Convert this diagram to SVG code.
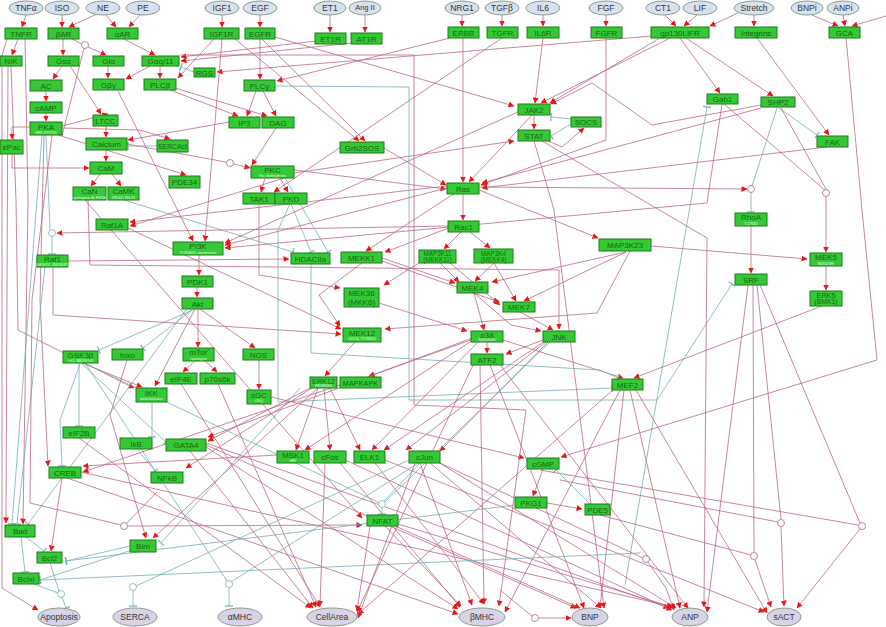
<svg xmlns="http://www.w3.org/2000/svg" width="886" height="627" viewBox="0 0 886 627">
<style>
.b rect{fill:#36c936;stroke:#1d7a1d;stroke-width:1}
.b text{font-family:"Liberation Sans",Arial,sans-serif;font-size:8px;fill:#176217;text-anchor:middle}
.b text.s{font-size:3.6px;fill:#e6ffe6}
.b text.m{font-size:6.3px}
.e ellipse{fill:#d7e1ef;stroke:#8e9b8a;stroke-width:1}
.o ellipse{fill:#d9d3e7;stroke:#8e9b8a;stroke-width:1}
.e text,.o text{font-family:"Liberation Sans",Arial,sans-serif;font-size:8.5px;fill:#333;text-anchor:middle}
.a{fill:none;stroke:#bb6a7e;stroke-width:.8;marker-end:url(#ar)}
.n{fill:none;stroke:#bb6a7e;stroke-width:.8}
.i{fill:none;stroke:#76adba;stroke-width:.8;marker-end:url(#br)}
.t{fill:none;stroke:#76adba;stroke-width:.8}
.c{fill:#fff;stroke:#a8687a;stroke-width:.8}
.ct{fill:#fff;stroke:#76adba;stroke-width:.8}
</style>
<defs>
<marker id="ar" markerUnits="userSpaceOnUse" markerWidth="6" markerHeight="6" refX="5.5" refY="3" orient="auto"><path d="M0,0 L6,3 L0,6z" fill="#e81818"/></marker>
<marker id="br" markerUnits="userSpaceOnUse" markerWidth="3" markerHeight="8" refX="1.5" refY="4" orient="auto"><path d="M1.5,0 V8" stroke="#76adba" stroke-width="1.2"/></marker>
</defs>
<rect width="886" height="627" fill="#fff"/>
<g id="connectors">
<path class="a" d="M26 15 L22 27"/>
<path class="a" d="M62 15 L62 27"/>
<path class="a" d="M97 14 L69 27"/>
<path class="a" d="M106 15 L116 27"/>
<path class="a" d="M140 15 L129 27"/>
<path class="a" d="M222 15 L222 27"/>
<path class="a" d="M260 15 L260 27"/>
<path class="a" d="M330 15 L330 32"/>
<path class="a" d="M365 15 L365 32"/>
<path class="a" d="M462 15 L462 26"/>
<path class="a" d="M502 15 L502 26"/>
<path class="a" d="M543 15 L543 26"/>
<path class="a" d="M606 15 L606 26"/>
<path class="a" d="M665 15 L676 26"/>
<path class="a" d="M697 15 L684 26"/>
<path class="a" d="M738 13 L710 26"/>
<path class="a" d="M754 15 L754 26"/>
<path class="a" d="M812 15 L838 26"/>
<path class="a" d="M843 15 L845 26"/>
<path class="a" d="M886 16 L852 26"/>
<path class="a" d="M18 39 L12 55"/>
<path class="a" d="M25 39 L28 200 L23 524"/>
<path class="a" d="M11 66 L16 200 L18 330 L134 388"/>
<path class="a" d="M8 66 L6 523"/>
<path class="a" d="M7 39 L2 55 L2 588 L38 610"/>
<path class="a" d="M63 39 L63 55"/>
<path class="n" d="M72 39 L82 44"/>
<path class="a" d="M88 47 L106 55"/>
<path class="n" d="M62 136 L84 48"/>
<path class="a" d="M124 39 L155 55"/>
<path class="a" d="M316 41 L181 57"/>
<path class="a" d="M352 43 L181 61"/>
<path class="a" d="M214 39 L178 78"/>
<path class="a" d="M652 36 L217 72"/>
<path class="i" d="M194 72 L181 67"/>
<path class="a" d="M160 66 L160 78"/>
<path class="a" d="M150 66 L126 79"/>
<path class="a" d="M108 66 L108 78"/>
<path class="a" d="M62 66 L53 79"/>
<path class="a" d="M46 91 L46 101"/>
<path class="a" d="M46 113 L46 121"/>
<path class="a" d="M30 127 L12 127 L12 139"/>
<path class="a" d="M12 154 L12 168 L89 168"/>
<path class="a" d="M70 66 L101 114"/>
<path class="a" d="M62 126 L108 114"/>
<path class="a" d="M106 126 L106 137"/>
<path class="a" d="M229 122 L128 140"/>
<path class="i" d="M157 146 L128 146"/>
<path class="a" d="M62 128 L140 130 L170 139"/>
<path class="a" d="M106 150 L106 161"/>
<path class="a" d="M100 174 L91 186"/>
<path class="a" d="M112 174 L121 186"/>
<path class="a" d="M58 135 L186 175"/>
<path class="n" d="M127 144 L226 162"/>
<path class="a" d="M234 164 L250 168"/>
<path class="a" d="M260 39 L260 79"/>
<path class="a" d="M450 38 L277 81"/>
<path class="a" d="M256 91 L247 116"/>
<path class="a" d="M263 91 L276 116"/>
<path class="a" d="M170 90 L238 116"/>
<path class="a" d="M175 88 L267 116"/>
<path class="a" d="M276 128 L252 165"/>
<path class="a" d="M235 39 L359 141"/>
<path class="a" d="M262 39 L365 141"/>
<path class="a" d="M384 148 L446 185"/>
<path class="a" d="M294 170 L446 189"/>
<path class="a" d="M463 38 L463 182"/>
<path class="a" d="M532 115 L469 182"/>
<path class="a" d="M606 38 L606 140 L481 185"/>
<path class="a" d="M543 38 L535 103"/>
<path class="a" d="M660 38 L550 103"/>
<path class="a" d="M670 38 L541 103"/>
<path class="a" d="M534 115 L534 129"/>
<path class="a" d="M548 141 L562 147 L584 128"/>
<path class="i" d="M571 119 L551 117"/>
<path class="i" d="M571 124 L551 136"/>
<path class="a" d="M275 37 L514 106"/>
<path class="a" d="M294 173 L514 141"/>
<path class="a" d="M502 38 L274 192"/>
<path class="a" d="M265 178 L261 192"/>
<path class="a" d="M280 178 L288 192"/>
<path class="i" d="M124 200 L293 252"/>
<path class="i" d="M291 204 L311 252"/>
<path class="i" d="M285 178 L328 252"/>
<path class="a" d="M447 186 L130 222"/>
<path class="a" d="M294 175 L130 226"/>
<path class="a" d="M447 188 L225 245"/>
<path class="a" d="M518 112 L225 243"/>
<path class="a" d="M222 39 L205 241"/>
<path class="a" d="M118 91 L193 241"/>
<path class="a" d="M463 193 L463 220"/>
<path class="a" d="M455 193 L366 251"/>
<path class="a" d="M479 190 L598 238"/>
<path class="a" d="M479 187 L747 189"/>
<path class="a" d="M827 147 L482 188"/>
<path class="a" d="M761 108 L482 183"/>
<path class="a" d="M761 105 L652 125 L592 83 L551 104"/>
<path class="a" d="M680 38 L720 93"/>
<path class="a" d="M686 38 L773 96"/>
<path class="a" d="M757 38 L829 135"/>
<path class="i" d="M779 108 L817 135"/>
<path class="n" d="M781 108 L826 189"/>
<path class="n" d="M724 104 L825 190"/>
<path class="a" d="M826 196 L826 252"/>
<path class="t" d="M777 108 L752 186"/>
<path class="i" d="M751 192 L751 212"/>
<path class="a" d="M751 226 L751 273"/>
<path class="a" d="M651 246 L807 259"/>
<path class="a" d="M826 266 L826 290"/>
<path class="a" d="M822 306 L634 378"/>
<path class="a" d="M722 104 L707 203 L225 248"/>
<path class="i" d="M625 585 L707 107"/>
<path class="a" d="M846 37 L862 210 L877 360 L561 457"/>
<path class="a" d="M199 255 L199 275"/>
<path class="a" d="M197 287 L197 297"/>
<path class="a" d="M198 309 L198 347"/>
<path class="i" d="M193 310 L99 350"/>
<path class="i" d="M192 310 L143 348"/>
<path class="a" d="M195 309 L155 386"/>
<path class="a" d="M200 309 L255 348"/>
<path class="a" d="M195 361 L183 372"/>
<path class="a" d="M205 361 L217 372"/>
<path class="a" d="M259 360 L259 389"/>
<path class="a" d="M271 397 L524 458"/>
<path class="a" d="M543 469 L533 496"/>
<path class="a" d="M547 503 L582 509"/>
<path class="i" d="M590 504 L556 470"/>
<path class="a" d="M448 226 L57 233"/>
<path class="t" d="M46 135 L50 229"/>
<path class="i" d="M52 237 L52 254"/>
<path class="a" d="M53 267 L53 315 L341 334"/>
<path class="a" d="M68 261 L289 259"/>
<path class="a" d="M128 228 L341 329"/>
<path class="a" d="M362 263 L319 295 L340 326"/>
<path class="a" d="M259 204 L259 275 L340 288"/>
<path class="a" d="M382 258 L455 283"/>
<path class="a" d="M382 261 L499 302"/>
<path class="a" d="M419 263 L384 285"/>
<path class="a" d="M440 263 L459 282"/>
<path class="a" d="M450 263 L500 305"/>
<path class="a" d="M461 232 L444 249"/>
<path class="a" d="M470 232 L490 248"/>
<path class="a" d="M449 228 L385 252"/>
<path class="a" d="M494 263 L475 281"/>
<path class="a" d="M494 263 L516 301"/>
<path class="a" d="M626 252 L492 282"/>
<path class="a" d="M626 252 L524 301"/>
<path class="a" d="M630 251 L597 313 L385 329"/>
<path class="a" d="M379 303 L467 331"/>
<path class="a" d="M474 293 L484 330"/>
<path class="a" d="M474 293 L511 325 L541 331"/>
<path class="a" d="M520 312 L553 330"/>
<path class="a" d="M88 200 L90 265 L559 270 L559 329"/>
<path class="a" d="M355 342 L325 376"/>
<path class="a" d="M471 340 L369 376"/>
<path class="a" d="M487 342 L487 353"/>
<path class="a" d="M543 340 L506 354"/>
<path class="a" d="M503 340 L623 378"/>
<path class="i" d="M311 264 L311 353 L600 370 L618 378"/>
<path class="a" d="M180 55 L414 55 L414 405 L526 410 L499 606"/>
<path class="i" d="M276 86 L409 87 L409 400 L657 400 L732 284"/>
<path class="i" d="M290 204 L278 230 L278 402 L612 388"/>
<path class="a" d="M44 135 L40 300 L48 466"/>
<path class="i" d="M42 135 L12 524"/>
<path class="i" d="M186 310 L28 524"/>
<path class="i" d="M45 267 L17 524"/>
<path class="a" d="M62 478 L51 551"/>
<path class="i" d="M26 537 L44 551"/>
<path class="i" d="M21 537 L25 572"/>
<path class="t" d="M50 563 L59 591"/>
<path class="t" d="M34 584 L58 593"/>
<path class="i" d="M62 597 L66 608"/>
<path class="i" d="M130 546 L66 561"/>
<path class="i" d="M132 550 L40 580"/>
<path class="a" d="M127 360 L110 415 L146 538"/>
<path class="a" d="M318 388 L153 538"/>
<path class="i" d="M300 388 L161 543"/>
<path class="i" d="M152 402 L152 437"/>
<path class="i" d="M137 449 L155 471"/>
<path class="a" d="M312 388 L186 468"/>
<path class="i" d="M79 363 L79 426"/>
<path class="a" d="M82 363 L142 387"/>
<path class="i" d="M80 364 L60 420 L62 466"/>
<path class="t" d="M84 363 L382 504"/>
<path class="i" d="M82 364 L166 442"/>
<path class="t" d="M85 363 L229 584"/>
<path class="a" d="M79 438 L311 608"/>
<path class="a" d="M218 384 L316 607"/>
<path class="a" d="M181 384 L320 607"/>
<path class="a" d="M190 451 L313 608"/>
<path class="a" d="M206 447 L458 609"/>
<path class="a" d="M206 445 L576 608"/>
<path class="a" d="M206 443 L669 608"/>
<path class="a" d="M385 526 L461 606"/>
<path class="a" d="M395 526 L580 608"/>
<path class="a" d="M398 524 L672 607"/>
<path class="a" d="M370 526 L357 611"/>
<path class="a" d="M81 472 L674 607"/>
<path class="a" d="M67 478 L458 614"/>
<path class="a" d="M620 390 L505 612"/>
<path class="a" d="M624 390 L600 608"/>
<path class="a" d="M630 390 L680 608"/>
<path class="a" d="M636 390 L767 613"/>
<path class="a" d="M614 389 L358 614"/>
<path class="a" d="M748 285 L707 612"/>
<path class="n" d="M753 285 L754 552"/>
<path class="n" d="M757 285 L781 519"/>
<path class="n" d="M760 285 L860 523"/>
<path class="a" d="M755 560 L771 607"/>
<path class="a" d="M781 527 L784 606"/>
<path class="a" d="M860 529 L797 608"/>
<path class="a" d="M648 562 L666 588 L674 610"/>
<path class="a" d="M539 618 L571 618"/>
<path class="n" d="M500 590 L532 616"/>
<path class="n" d="M440 463 L643 558"/>
<path class="n" d="M560 480 L778 522"/>
<path class="n" d="M540 470 L858 525"/>
<path class="n" d="M600 515 L751 555"/>
<path class="a" d="M542 141 L707 238 L704 607"/>
<path class="a" d="M534 141 L554 210 L604 608"/>
<path class="a" d="M420 463 L472 605"/>
<path class="a" d="M430 463 L601 608"/>
<path class="a" d="M438 462 L676 608"/>
<path class="a" d="M415 463 L358 618"/>
<path class="a" d="M325 463 L320 606"/>
<path class="a" d="M345 460 L672 610"/>
<path class="a" d="M340 463 L460 607"/>
<path class="a" d="M375 463 L484 604"/>
<path class="a" d="M385 460 L764 612"/>
<path class="a" d="M480 365 L484 604"/>
<path class="a" d="M490 365 L584 608"/>
<path class="a" d="M500 365 L688 608"/>
<path class="a" d="M473 365 L357 612"/>
<path class="a" d="M277 455 L83 466"/>
<path class="a" d="M340 385 L83 472"/>
<path class="a" d="M318 388 L296 450"/>
<path class="a" d="M324 388 L330 450"/>
<path class="a" d="M330 388 L360 450"/>
<path class="a" d="M312 387 L208 441"/>
<path class="a" d="M473 340 L305 450"/>
<path class="a" d="M478 342 L372 450"/>
<path class="a" d="M472 338 L208 437"/>
<path class="a" d="M548 342 L440 451"/>
<path class="a" d="M545 341 L384 450"/>
<path class="a" d="M546 342 L406 450"/>
<path class="t" d="M550 342 L385 502"/>
<path class="t" d="M420 463 L384 501"/>
<path class="i" d="M382 507 L382 514"/>
<path class="a" d="M85 200 L362 518"/>
<path class="a" d="M128 526 L362 525"/>
<path class="n" d="M52 135 L32 300 L30 503 L121 525"/>
<path class="n" d="M157 492 L127 523"/>
<path class="i" d="M515 505 L66 561"/>
<path class="i" d="M640 553 L40 580"/>
<path class="t" d="M409 460 L136 586"/>
<path class="i" d="M133 591 L133 606"/>
<path class="t" d="M420 462 L231 582"/>
<path class="i" d="M229 588 L229 606"/>
</g>
<g id="circles">
<circle class="c" cx="85" cy="45" r="3.5"/>
<circle class="c" cx="230" cy="163" r="3.5"/>
<circle class="ct" cx="52" cy="233" r="3.5"/>
<circle class="c" cx="751" cy="189" r="3.5"/>
<circle class="c" cx="826" cy="193" r="3.5"/>
<circle class="c" cx="124" cy="526" r="3.5"/>
<circle class="ct" cx="61" cy="594" r="3.5"/>
<circle class="ct" cx="133" cy="587" r="3.5"/>
<circle class="ct" cx="382" cy="504" r="3.5"/>
<circle class="ct" cx="229" cy="584" r="3.5"/>
<circle class="c" cx="535" cy="618" r="3.5"/>
<circle class="c" cx="646" cy="559" r="3.5"/>
<circle class="c" cx="781" cy="523" r="3.5"/>
<circle class="c" cx="754" cy="556" r="3.5"/>
<circle class="c" cx="862" cy="526" r="3.5"/>
</g>
<g class="e">
<g id="TNFa"><ellipse cx="26" cy="8" rx="17" ry="7"/><text x="26" y="11">TNFα</text></g>
<g id="ISO"><ellipse cx="62" cy="8" rx="17" ry="7"/><text x="62" y="11">ISO</text></g>
<g id="NE"><ellipse cx="103" cy="8" rx="17" ry="7"/><text x="103" y="11">NE</text></g>
<g id="PE"><ellipse cx="143" cy="8" rx="17" ry="7"/><text x="143" y="11">PE</text></g>
<g id="IGF1"><ellipse cx="222" cy="8" rx="17" ry="7"/><text x="222" y="11">IGF1</text></g>
<g id="EGF"><ellipse cx="260" cy="8" rx="17" ry="7"/><text x="260" y="11">EGF</text></g>
<g id="ET1"><ellipse cx="330" cy="8" rx="16" ry="7"/><text x="330" y="11">ET1</text></g>
<g id="AngII"><ellipse cx="365" cy="8" rx="16" ry="7"/><text x="365" y="10" style="font-size:7.5px">Ang II</text></g>
<g id="NRG1"><ellipse cx="462" cy="8" rx="17" ry="7"/><text x="462" y="11">NRG1</text></g>
<g id="TGFb"><ellipse cx="502" cy="8" rx="17" ry="7"/><text x="502" y="11">TGFβ</text></g>
<g id="IL6"><ellipse cx="543" cy="8" rx="17" ry="7"/><text x="543" y="11">IL6</text></g>
<g id="FGF"><ellipse cx="606" cy="8" rx="17" ry="7"/><text x="606" y="11">FGF</text></g>
<g id="CT1"><ellipse cx="663" cy="8" rx="17" ry="7"/><text x="663" y="11">CT1</text></g>
<g id="LIF"><ellipse cx="700" cy="8" rx="17" ry="7"/><text x="700" y="11">LIF</text></g>
<g id="Stretch"><ellipse cx="754" cy="8" rx="20" ry="7"/><text x="754" y="11">Stretch</text></g>
<g id="BNPi"><ellipse cx="807" cy="8" rx="16" ry="7"/><text x="807" y="11">BNPi</text></g>
<g id="ANPi"><ellipse cx="843" cy="8" rx="16" ry="7"/><text x="843" y="11">ANPi</text></g>
</g>
<g class="o">
<g id="Apoptosis"><ellipse cx="59" cy="617" rx="21" ry="9"/><text x="59" y="620">Apoptosis</text></g>
<g id="SERCA"><ellipse cx="135" cy="617" rx="22" ry="9"/><text x="135" y="620">SERCA</text></g>
<g id="aMHC"><ellipse cx="240" cy="617" rx="22" ry="9"/><text x="240" y="620">αMHC</text></g>
<g id="CellArea"><ellipse cx="332" cy="617" rx="25" ry="9"/><text x="332" y="620">CellArea</text></g>
<g id="bMHC"><ellipse cx="482" cy="617" rx="23" ry="9"/><text x="482" y="620">βMHC</text></g>
<g id="BNP"><ellipse cx="590" cy="617" rx="18" ry="9"/><text x="590" y="620">BNP</text></g>
<g id="ANP"><ellipse cx="690" cy="617" rx="18" ry="9"/><text x="690" y="620">ANP</text></g>
<g id="sACT"><ellipse cx="784" cy="617" rx="17" ry="9"/><text x="784" y="620">sACT</text></g>
</g>
<g class="b">
<g id="TNFR"><rect x="5" y="28" width="32" height="11"/><text x="21" y="36.5">TNFR</text></g>
<g id="bAR"><rect x="48" y="28" width="31" height="11"/><text x="63.5" y="36.5">βAR</text></g>
<g id="aAR"><rect x="107" y="28" width="31" height="11"/><text x="122.5" y="36.5">αAR</text></g>
<g id="IGF1R"><rect x="204" y="28" width="35" height="11"/><text x="221.5" y="36.5">IGF1R</text></g>
<g id="EGFR"><rect x="245" y="28" width="30" height="11"/><text x="260" y="36.5">EGFR</text></g>
<g id="ET1R"><rect x="315" y="33" width="31" height="11"/><text x="330.5" y="41.5">ET1R</text></g>
<g id="AT1R"><rect x="351" y="33" width="31" height="11"/><text x="366.5" y="41.5">AT1R</text></g>
<g id="ERBB"><rect x="448" y="27" width="31" height="11"/><text x="463.5" y="35.5">ERBB</text></g>
<g id="TGFR"><rect x="487" y="27" width="31" height="11"/><text x="502.5" y="35.5">TGFR</text></g>
<g id="IL6R"><rect x="527" y="27" width="32" height="11"/><text x="543" y="35.5">IL6R</text></g>
<g id="FGFR"><rect x="591" y="27" width="31" height="11"/><text x="606.5" y="35.5">FGFR</text></g>
<g id="gp130LIFR"><rect x="651" y="27" width="58" height="11"/><text x="680" y="35.5">gp130LIFR</text></g>
<g id="Integrins"><rect x="735" y="27" width="42" height="11"/><text x="756" y="35.5">Integrins</text></g>
<g id="GCA"><rect x="829" y="27" width="31" height="11"/><text x="844.5" y="35.5">GCA</text></g>
<g id="NIK"><rect x="0" y="56" width="22" height="10"/><text x="11" y="64">NIK</text></g>
<g id="Gsa"><rect x="48" y="56" width="31" height="10"/><text x="63.5" y="64">Gsα</text></g>
<g id="Gia"><rect x="93" y="56" width="31" height="10"/><text x="108.5" y="64">Giα</text></g>
<g id="Gaq11"><rect x="142" y="56" width="37" height="10"/><text x="160.5" y="64">Gαq/11</text></g>
<g id="RGS"><rect x="194" y="68" width="21" height="9"/><text x="204.5" y="75.5">RGS</text></g>
<g id="Gbg"><rect x="93" y="79" width="31" height="11"/><text x="108.5" y="87.5">Gβγ</text></g>
<g id="PLCb"><rect x="144" y="79" width="32" height="11"/><text x="160" y="87.5">PLCβ</text></g>
<g id="AC"><rect x="30" y="80" width="32" height="11"/><text x="46" y="88.5">AC</text></g>
<g id="PLCg"><rect x="244" y="80" width="31" height="11"/><text x="259.5" y="88.5">PLCγ</text></g>
<g id="cAMP"><rect x="30" y="102" width="32" height="11"/><text x="46" y="110.5">cAMP</text></g>
<g id="JAK2"><rect x="518" y="104" width="32" height="11"/><text x="534" y="112.5">JAK2</text></g>
<g id="Gab1"><rect x="707" y="94" width="31" height="10"/><text x="722.5" y="102">Gab1</text></g>
<g id="SHP2"><rect x="761" y="97" width="34" height="10"/><text x="778" y="105">SHP2</text></g>
<g id="LTCC"><rect x="93" y="115" width="25" height="11"/><text x="105.5" y="123.5">LTCC</text></g>
<g id="IP3"><rect x="229" y="117" width="31" height="11"/><text x="244.5" y="125.5">IP3</text></g>
<g id="DAG"><rect x="262" y="117" width="32" height="11"/><text x="278" y="125.5">DAG</text></g>
<g id="SOCS"><rect x="571" y="117" width="30" height="10"/><text x="586" y="125">SOCS</text></g>
<g id="PKA"><rect x="30" y="122" width="32" height="13"/><text x="46" y="129.5">PKA</text><text class="s" x="46" y="133.5">H89, KT5720</text></g>
<g id="STAT"><rect x="518" y="130" width="32" height="11"/><text x="534" y="138.5">STAT</text></g>
<g id="FAK"><rect x="817" y="136" width="31" height="11"/><text x="832.5" y="144.5">FAK</text></g>
<g id="ePac"><rect x="0" y="140" width="23" height="14"/><text x="11.5" y="150">ePac</text></g>
<g id="Calcium"><rect x="86" y="138" width="41" height="12"/><text x="106.5" y="147">Calcium</text></g>
<g id="SERCAct"><rect x="157" y="140" width="31" height="12"/><text x="172.5" y="149" style="font-size:6.8px">SERCAct</text></g>
<g id="Grb2SOS"><rect x="340" y="142" width="44" height="11"/><text x="362" y="150.5">Grb2SOS</text></g>
<g id="CaM"><rect x="90" y="162" width="32" height="12"/><text x="106" y="171">CaM</text></g>
<g id="PKC"><rect x="251" y="166" width="43" height="12"/><text x="272.5" y="173">PKC</text><text class="s" x="272.5" y="177">Ro, chelerythrine</text></g>
<g id="PDE34"><rect x="169" y="176" width="31" height="12"/><text x="184.5" y="185">PDE34</text></g>
<g id="Ras"><rect x="447" y="183" width="32" height="11"/><text x="463" y="191.5">Ras</text></g>
<g id="CaN"><rect x="73" y="187" width="33" height="13"/><text x="89.5" y="194">CaN</text><text class="s" x="89.5" y="198.5">cyclosporin A, FK506</text></g>
<g id="CaMK"><rect x="108" y="187" width="31" height="13"/><text x="123.5" y="194">CaMK</text><text class="s" x="123.5" y="198.5">KN-62, KN-93</text></g>
<g id="TAK1"><rect x="243" y="193" width="32" height="11"/><text x="259" y="201.5">TAK1</text></g>
<g id="PKD"><rect x="275" y="193" width="32" height="11"/><text x="291" y="201.5">PKD</text></g>
<g id="RhoA"><rect x="735" y="213" width="32" height="13"/><text x="751" y="220">RhoA</text><text class="s" x="751" y="224.5">Y-27632</text></g>
<g id="Raf1A"><rect x="96" y="219" width="32" height="11"/><text x="112" y="227.5">Raf1A</text></g>
<g id="Rac1"><rect x="448" y="221" width="31" height="11"/><text x="463.5" y="229.5">Rac1</text></g>
<g id="PI3K"><rect x="173" y="242" width="50" height="13"/><text x="198" y="249">PI3K</text><text class="s" x="198" y="253.5">LY294002, wortmannin</text></g>
<g id="MAP3K23"><rect x="599" y="239" width="52" height="12"/><text x="625" y="248">MAP3K23</text></g>
<g id="MAP3K11"><rect x="419" y="250" width="37" height="13"/><text class="m" x="437.5" y="256">MAP3K11</text><text class="m" x="437.5" y="262">(MEKK11)</text></g>
<g id="MAP3K4"><rect x="474" y="249" width="39" height="14"/><text class="m" x="493.5" y="255.5">MAP3K4</text><text class="m" x="493.5" y="261.5">(MEKK4)</text></g>
<g id="MEKK1"><rect x="341" y="252" width="41" height="11"/><text x="361.5" y="260.5">MEKK1</text></g>
<g id="HDACIIa"><rect x="291" y="253" width="39" height="11"/><text x="310.5" y="261.5">HDACIIa</text></g>
<g id="MEK5"><rect x="810" y="253" width="32" height="13"/><text x="826" y="260">MEK5</text><text class="s" x="826" y="264.5">BIX02189</text></g>
<g id="Raf1"><rect x="37" y="255" width="31" height="12"/><text x="52.5" y="262">Raf1</text><text class="s" x="52.5" y="266">GW5074, ZM336372</text></g>
<g id="SRF"><rect x="735" y="274" width="32" height="11"/><text x="751" y="282.5">SRF</text></g>
<g id="PDK1"><rect x="182" y="276" width="31" height="11"/><text x="197.5" y="284.5">PDK1</text></g>
<g id="MEK4"><rect x="457" y="282" width="31" height="11"/><text x="472.5" y="290.5">MEK4</text></g>
<g id="MEK36"><rect x="344" y="288" width="35" height="19"/><text x="361.5" y="296">MEK36</text><text x="361.5" y="305">(MKK6)</text></g>
<g id="ERK5"><rect x="810" y="291" width="32" height="15"/><text x="826" y="297.5" style="font-size:7.2px">ERK5</text><text x="826" y="304" style="font-size:6.8px">(BMK1)</text></g>
<g id="Akt"><rect x="182" y="298" width="31" height="11"/><text x="197.5" y="306.5">Akt</text></g>
<g id="MEK7"><rect x="503" y="302" width="32" height="10"/><text x="519" y="310">MEK7</text></g>
<g id="MEK12"><rect x="343" y="328" width="38" height="14"/><text x="362" y="335.5">MEK12</text><text class="s" x="362" y="340">U0126, PD98059</text></g>
<g id="p38"><rect x="471" y="331" width="32" height="11"/><text x="487" y="337.5">p38</text><text class="s" x="487" y="341">SB203580</text></g>
<g id="JNK"><rect x="543" y="331" width="32" height="11"/><text x="559" y="339.5">JNK</text></g>
<g id="GSK3b"><rect x="63" y="351" width="35" height="12"/><text x="80.5" y="358">GSK3β</text><text class="s" x="80.5" y="362">LiCl, SB216763</text></g>
<g id="foxo"><rect x="112" y="349" width="31" height="11"/><text x="127.5" y="357.5">foxo</text></g>
<g id="mTor"><rect x="183" y="348" width="31" height="13"/><text x="198.5" y="355">mTor</text><text class="s" x="198.5" y="359.5">rapamycin</text></g>
<g id="NOS"><rect x="243" y="349" width="31" height="11"/><text x="258.5" y="357.5">NOS</text></g>
<g id="ATF2"><rect x="471" y="354" width="32" height="11"/><text x="487" y="362.5">ATF2</text></g>
<g id="eIF4E"><rect x="165" y="373" width="32" height="11"/><text x="181" y="381.5">eIF4E</text></g>
<g id="p70s6k"><rect x="200" y="373" width="35" height="11"/><text x="217.5" y="381.5">p70s6k</text></g>
<g id="ERK12"><rect x="310" y="377" width="27" height="11"/><text x="323.5" y="383.5" style="font-size:7.2px">ERK12</text><text class="s" x="323.5" y="387">FR180204</text></g>
<g id="MAPKAPK"><rect x="340" y="377" width="41" height="11"/><text x="360.5" y="385.5" style="font-size:7.3px">MAPKAPK</text></g>
<g id="MEF2"><rect x="612" y="379" width="31" height="11"/><text x="627.5" y="387.5">MEF2</text></g>
<g id="IKK"><rect x="136" y="388" width="31" height="14"/><text x="151.5" y="395.5">IKK</text><text class="s" x="151.5" y="400">wedelolactone</text></g>
<g id="sGC"><rect x="247" y="390" width="24" height="14"/><text x="259" y="397.5">sGC</text><text class="s" x="259" y="402">ODQ</text></g>
<g id="eIF2B"><rect x="63" y="427" width="32" height="11"/><text x="79" y="435.5">eIF2B</text></g>
<g id="IkB"><rect x="120" y="438" width="32" height="11"/><text x="136" y="446.5">IkB</text></g>
<g id="GATA4"><rect x="166" y="439" width="40" height="12"/><text x="186" y="448">GATA4</text></g>
<g id="MSK1"><rect x="277" y="451" width="32" height="12"/><text x="293" y="458">MSK1</text><text class="s" x="293" y="462">H89</text></g>
<g id="cFos"><rect x="314" y="451" width="32" height="12"/><text x="330" y="460">cFos</text></g>
<g id="ELK1"><rect x="354" y="451" width="31" height="12"/><text x="369.5" y="460">ELK1</text></g>
<g id="cJun"><rect x="409" y="451" width="31" height="12"/><text x="424.5" y="460">cJun</text></g>
<g id="cGMP"><rect x="527" y="458" width="32" height="11"/><text x="543" y="466.5">cGMP</text></g>
<g id="CREB"><rect x="49" y="467" width="32" height="11"/><text x="65" y="475.5">CREB</text></g>
<g id="NFkB"><rect x="151" y="472" width="32" height="11"/><text x="167" y="480.5">NFkB</text></g>
<g id="PKG1"><rect x="515" y="497" width="32" height="11"/><text x="531" y="505.5">PKG1</text></g>
<g id="PDE5"><rect x="585" y="504" width="25" height="11"/><text x="597.5" y="512.5">PDE5</text></g>
<g id="NFAT"><rect x="367" y="515" width="31" height="11"/><text x="382.5" y="523.5">NFAT</text></g>
<g id="Bad"><rect x="5" y="525" width="30" height="12"/><text x="20" y="534">Bad</text></g>
<g id="Bim"><rect x="130" y="540" width="26" height="12"/><text x="143" y="549">Bim</text></g>
<g id="Bcl2"><rect x="37" y="552" width="25" height="11"/><text x="49.5" y="560.5">Bcl2</text></g>
<g id="Bclxl"><rect x="13" y="573" width="26" height="11"/><text x="26" y="581.5">Bclxl</text></g>
</g>
</svg>
